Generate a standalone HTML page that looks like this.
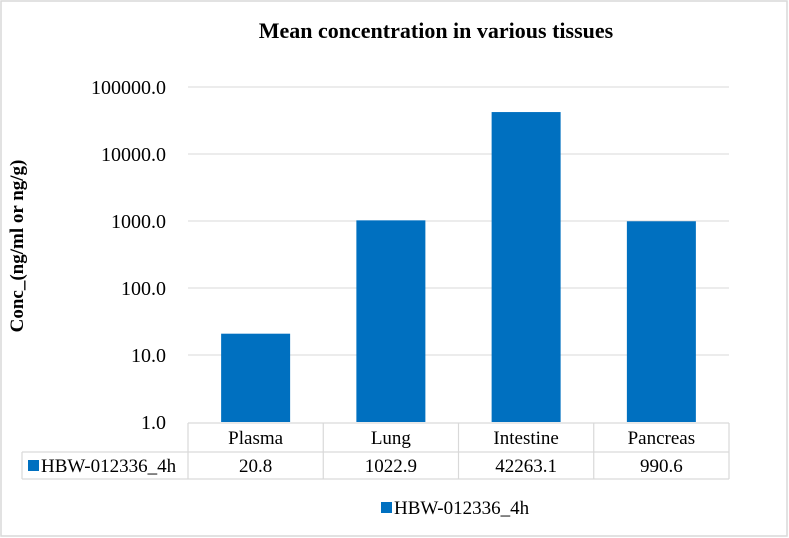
<!DOCTYPE html>
<html><head><meta charset="utf-8"><style>
html,body{margin:0;padding:0;background:#fff;}
svg{display:block;}
svg text{font-family:"Liberation Serif",serif;}
</style></head><body>
<svg id="chart" width="789" height="538" viewBox="0 0 789 538" xmlns="http://www.w3.org/2000/svg">
<rect x="1" y="1" width="786" height="535" fill="#fff" stroke="#d9d9d9" stroke-width="1.5"/>
<text x="436" y="38" text-anchor="middle" font-size="22" font-weight="bold" font-family="Liberation Serif, serif">Mean concentration in various tissues</text>
<text transform="translate(23,246) rotate(-90)" text-anchor="middle" font-size="19" font-weight="bold" font-family="Liberation Serif, serif">Conc_(ng/ml or ng/g)</text>
<g id="grid"></g><g id="bars"></g><g id="table"></g>
<rect x="381" y="502" width="11" height="11" fill="#0070c0"/>
<text x="394" y="514" font-size="19" font-family="Liberation Serif, serif">HBW-012336_4h</text>
</svg>
<script>
const categories = ["Plasma","Lung","Intestine","Pancreas"];
const values = [20.8,1022.9,42263.1,990.6];
const valueLabels = ["20.8","1022.9","42263.1","990.6"];
const tickValues = [1,10,100,1000,10000,100000];
const tickLabels = ["1.0","10.0","100.0","1000.0","10000.0","100000.0"];
const seriesName = "HBW-012336_4h";
const NS="http://www.w3.org/2000/svg";
const X0=188, X1=729, Y0=422, DEC=67;
const bw=(X1-X0)/categories.length;
const FF="Liberation Serif, serif";
function y(v){return Y0-Math.log10(v)*DEC;}
function mk(t,a,p,txt){const e=document.createElementNS(NS,t);for(const k in a)e.setAttribute(k,a[k]);if(txt!==undefined)e.textContent=txt;p.appendChild(e);return e;}
const grid=document.getElementById('grid'),bars=document.getElementById('bars'),tb=document.getElementById('table');
tickValues.forEach((v,i)=>{
  if(i>0){const l=mk('line',{x1:X0,x2:X1,y1:y(v),y2:y(v),stroke:'#d9d9d9','stroke-width':1},grid);
  
  }
  const t=mk('text',{x:166,y:y(v)+7,'text-anchor':'end','font-size':20,'font-family':FF},grid,tickLabels[i]);
  
  
});
categories.forEach((c,i)=>{
  const cx=X0+bw*(i+0.5);
  const r=mk('rect',{x:cx-34.5,y:y(values[i]),width:69,height:Y0-y(values[i]),fill:'#0070c0'},bars);
  
  
  const t1=mk('text',{x:cx,y:444,'text-anchor':'middle','font-size':19,'font-family':FF},tb,c);
  
  
  const t2=mk('text',{x:cx,y:472,'text-anchor':'middle','font-size':19,'font-family':FF},tb,valueLabels[i]);
  
  
});
const L=[[X0,423,X1,423],[22,452,X1,452],[22,479,X1,479],[22,452,22,479]];
for(let i=0;i<=categories.length;i++)L.push([X0+bw*i,423,X0+bw*i,479]);
L.forEach(a=>{const l=mk('line',{x1:a[0],y1:a[1],x2:a[2],y2:a[3],stroke:'#d9d9d9','stroke-width':1.2},tb);
  
  });
const sw=mk('rect',{x:28,y:460,width:11,height:11,fill:'#0070c0'},tb);


const sn=mk('text',{x:41,y:472,'font-size':19,'font-family':FF},tb,seriesName);


</script>
</body></html>
